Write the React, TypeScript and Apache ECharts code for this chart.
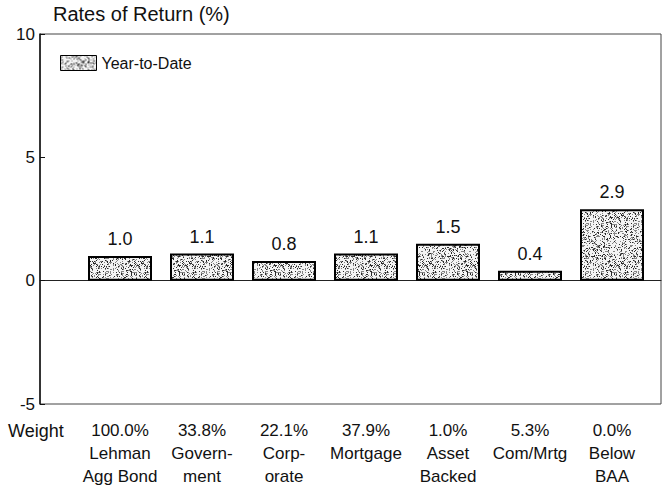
import React, { useEffect, useRef } from "react";
import * as echarts from "echarts";

const weights = ["100.0%", "33.8%", "22.1%", "37.9%", "1.0%", "5.3%", "0.0%"];
const sectors = ["Lehman\nAgg Bond", "Govern-\nment", "Corp-\norate", "Mortgage", "Asset\nBacked", "Com/Mrtg", "Below\nBAA"];
const yearToDate = [1.0, 1.1, 0.8, 1.1, 1.5, 0.4, 2.9];
const yTicks = { min: -5, max: 10, interval: 5 };

const FONT = "'Liberation Sans', Arial, Helvetica, sans-serif";
const INK = "#111";

function makeStipple(): HTMLCanvasElement {
  const size = 48;
  const c = document.createElement("canvas");
  c.width = size;
  c.height = size;
  const ctx = c.getContext("2d")!;
  ctx.fillStyle = "#f4f4f4";
  ctx.fillRect(0, 0, size, size);
  let s = 12345;
  const next = () => {
    s = (s * 1103515245 + 12345) & 0x7fffffff;
    return s / 0x7fffffff;
  };
  for (let y = 0; y < size; y++) {
    for (let x = 0; x < size; x++) {
      const r = next();
      if (r < 0.3) {
        ctx.fillStyle = r < 0.11 ? "#2a2a2a" : "#858585";
        ctx.fillRect(x, y, 1, 1);
      }
    }
  }
  return c;
}

export default function App() {
  const ref = useRef<HTMLDivElement>(null);
  useEffect(() => {
    if (!ref.current) return;
    const chart = echarts.init(ref.current, undefined, { renderer: "svg" });
    const canvas = makeStipple();
    const pattern: any = { image: canvas, repeat: "repeat" };
    const categories = weights.map((w, i) => w + "\n" + sectors[i]);
    chart.setOption({
      animation: false,
      backgroundColor: "#fff",
      title: {
        text: "Rates of Return (%)",
        left: 53,
        top: 4,
        padding: 0,
        textStyle: { fontFamily: FONT, fontSize: 20, fontWeight: "normal", color: INK },
      },
      legend: {
        left: 60,
        top: 55,
        padding: 0,
        itemWidth: 36,
        itemHeight: 15,
        icon: "rect",
        textStyle: { fontFamily: FONT, fontSize: 16, color: INK },
        data: [{ name: "Year-to-Date", itemStyle: { color: pattern, borderColor: "#000", borderWidth: 1 } }],
      },
      graphic: [
        {
          type: "text",
          x: 8,
          y: 419,
          style: { text: "Weight", font: `18px ${FONT}`, fill: INK, verticalAlign: "top", lineHeight: 23 },
        },
      ],
      grid: [
        { left: 40, right: 3, top: 34, bottom: 86, show: true, borderColor: "#444", borderWidth: 1, backgroundColor: "transparent" },
        { left: 79, width: 574, top: 34, bottom: 86 },
      ],
      xAxis: [
        {
          gridIndex: 0,
          type: "value",
          min: 0,
          max: 1,
          axisLine: { show: true, onZero: true, lineStyle: { color: "#222", width: 1 } },
          axisTick: { show: false },
          axisLabel: { show: false },
          splitLine: { show: false },
        },
        {
          gridIndex: 1,
          type: "category",
          data: categories,
          axisLine: { show: false },
          axisTick: { show: false },
          axisLabel: {
            margin: 15,
            fontFamily: FONT,
            fontSize: 17,
            color: INK,
            lineHeight: 23,
            interval: 0,
          },
        },
      ],
      yAxis: [
        {
          gridIndex: 0,
          type: "value",
          min: yTicks.min,
          max: yTicks.max,
          interval: yTicks.interval,
          axisLine: { show: true, lineStyle: { color: "#111", width: 1.5 } },
          axisTick: { show: true, inside: true, length: 5, lineStyle: { color: "#111" } },
          axisLabel: { fontFamily: FONT, fontSize: 17, color: INK, margin: 5 },
          splitLine: { show: false },
        },
        {
          gridIndex: 1,
          type: "value",
          min: yTicks.min,
          max: yTicks.max,
          interval: yTicks.interval,
          show: false,
        },
      ],
      series: [
        {
          name: "Year-to-Date",
          type: "bar",
          xAxisIndex: 1,
          yAxisIndex: 1,
          data: yearToDate,
          barWidth: 64,
          itemStyle: { color: pattern, borderColor: "#000", borderWidth: 2 },
          label: {
            show: true,
            position: "top",
            distance: 8,
            fontFamily: FONT,
            fontSize: 18,
            color: INK,
            formatter: (p: any) => Number(p.value).toFixed(1),
          },
        },
      ],
    });
    return () => chart.dispose();
  }, []);
  return <div ref={ref} style={{ position: "fixed", left: 0, top: 0, width: 664, height: 490 }} />;
}
